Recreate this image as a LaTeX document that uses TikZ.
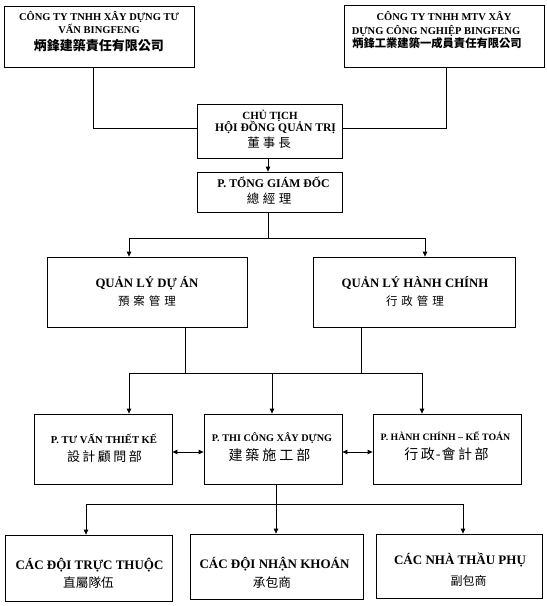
\documentclass[tikz,border=0pt]{standalone}
\usepackage{fontspec}
\setmainfont{Liberation Serif}
\newfontfamily\cjk{Noto Sans CJK TC}
\usetikzlibrary{arrows.meta}
\newcommand\fsz[1]{\fontsize{#1}{#1}\selectfont}
\newcommand\cg[1]{\hspace{#1}}
\begin{document}
\begin{tikzpicture}[x=1pt,y=-1pt,line width=0.8pt,
  box/.style={draw,rectangle,inner sep=0pt},
  vt/.style={anchor=base,inner sep=0pt,font=\bfseries\fsz{#1}},
  ct/.style={anchor=base,inner sep=0pt,font=\cjk\fsz{#1}},
  ctb/.style={anchor=base,inner sep=0pt,font=\cjk\bfseries\fsz{#1}},
  arr/.style={-{Triangle[length=5pt,width=4.5pt]}},
  darr/.style={{Triangle[length=5pt,width=4.5pt]}-{Triangle[length=5pt,width=4.5pt]}}]
\useasboundingbox (0,0) rectangle (547,606);
% boxes
\node[box,minimum width=190pt,minimum height=61pt] (b1) at (99,36.5) {};
\node[box,minimum width=200pt,minimum height=62pt] (b2) at (444,36) {};
\node[box,minimum width=145pt,minimum height=54pt] (chair) at (269.5,131) {};
\node[box,minimum width=145pt,minimum height=40pt] (gd) at (269.5,192) {};
\node[box,minimum width=200pt,minimum height=70pt] (qlda) at (147,292) {};
\node[box,minimum width=202pt,minimum height=70pt] (qlhc) at (414,292) {};
\node[box,minimum width=138pt,minimum height=70pt] (tv) at (103,449) {};
\node[box,minimum width=138pt,minimum height=70pt] (tc) at (273,449) {};
\node[box,minimum width=148pt,minimum height=70pt] (hc) at (447,449) {};
\node[box,minimum width=167pt,minimum height=66pt] (d1) at (88.5,568) {};
\node[box,minimum width=173pt,minimum height=65pt] (d2) at (276.5,566.5) {};
\node[box,minimum width=166pt,minimum height=64pt] (d3) at (459,566) {};
% texts
\node[vt=10.5] (b1a) at (99,20.5) {CÔNG TY TNHH XÂY DỰNG TƯ};
\node[vt=10.5] (b1b) at (99,33.5) {VẤN BINGFENG};
\node[ctb=13] (b1c) at (99,50) {炳鋒建築責任有限公司};
\node[vt=10.5] (b2a) at (444,20.5) {CÔNG TY TNHH MTV XÂY};
\node[vt=10.5] (b2b) at (436,34) {DỰNG CÔNG NGHIỆP BINGFENG};
\node[ctb=11.3] (b2c) at (437,47) {炳鋒工業建築一成員責任有限公司};
\node[vt=11] (cha) at (270,119.5) {CHỦ TỊCH};
\node[vt=11.6] (chb) at (275.5,131.5) {HỘI ĐỒNG QUẢN TRỊ};
\node[ct=12.5] (chc) at (269,147.5) {董\cg{3pt}事\cg{3pt}長};
\node[vt=11.8] (gda) at (273.5,187.5) {P. TỔNG GIÁM ĐỐC};
\node[ct=12.5] (gdb) at (269,203) {總\cg{3.5pt}經\cg{3.5pt}理};
\node[vt=12.8] (qa) at (147,287) {QUẢN LÝ DỰ ÁN};
\node[ct=11.5] (qb) at (147,305) {預\cg{4pt}案\cg{4pt}管\cg{4pt}理};
\node[vt=12.8] (ha) at (415,287) {QUẢN LÝ HÀNH CHÍNH};
\node[ct=11.5] (hb) at (415,305) {行\cg{4pt}政\cg{4pt}管\cg{4pt}理};
\node[vt=10.6] (tva) at (104,443) {P. TƯ VẤN THIẾT KẾ};
\node[ct=13] (tvb) at (104.5,461) {設\cg{2.5pt}計\cg{2.5pt}顧\cg{2.5pt}問\cg{2.5pt}部};
\node[vt=10.2] (tca) at (272,441) {P. THI CÔNG XÂY DỰNG};
\node[ct=14] (tcb) at (269.5,460) {建\cg{3pt}築\cg{3pt}施\cg{3pt}工\cg{3pt}部};
\node[vt=9.8] (hca) at (445.5,440) {P. HÀNH CHÍNH – KẾ TOÁN};
\node[ct=14] (hcb) at (446.5,459) {行\cg{2.5pt}政\cg{1pt}-\cg{1pt}會\cg{2.5pt}計\cg{2.5pt}部};
\node[vt=13] (d1a) at (89.5,569) {CÁC ĐỘI TRỰC THUỘC};
\node[ct=12.7] (d1b) at (88.5,587.5) {直屬隊伍};
\node[vt=13] (d2a) at (274.5,568) {CÁC ĐỘI NHẬN KHOÁN};
\node[ct=12.7] (d2b) at (272,587) {承包商};
\node[vt=13] (d3a) at (460,564) {CÁC NHÀ THẦU PHỤ};
\node[ct=12] (d3b) at (468.5,585) {副包商};
% junction coordinates
\coordinate (j1) at (93,128);
\coordinate (j2) at (446,128);
\coordinate (k0) at (268,238);
\coordinate (kl) at (129,238);
\coordinate (kr) at (425,238);
\coordinate (m1) at (185,373);
\coordinate (m2) at (361,373);
\coordinate (ml) at (129,373);
\coordinate (mc) at (272,373);
\coordinate (mr) at (422,373);
\coordinate (n0) at (276,504);
\coordinate (nl) at (86,504);
\coordinate (nr) at (463,504);
% connectors
\draw (b1.south -| j1) -- (j1) -- (j1 -| chair.west);
\draw (b2.south -| j2) -- (j2) -- (j2 -| chair.east);
\draw[arr] (chair.south -| 268,0) -- (gd.north -| 268,0);
\draw (gd.south -| k0) -- (k0);
\draw (kl) -- (kr);
\draw[arr] (kl) -- (kl |- qlda.north);
\draw[arr] (kr) -- (kr |- qlhc.north);
\draw (qlda.south -| m1) -- (m1);
\draw (qlhc.south -| m2) -- (m2);
\draw (ml) -- (mr);
\draw[arr] (ml) -- (ml |- tv.north);
\draw[arr] (mc) -- (mc |- tc.north);
\draw[arr] (mr) -- (mr |- hc.north);
\draw[darr] (tv.east |- 0,452) -- (tc.west |- 0,452);
\draw[darr] (tc.east |- 0,452) -- (hc.west |- 0,452);
\draw (tc.south -| n0) -- (n0);
\draw (nl) -- (nr);
\draw[arr] (nl) -- (nl |- d1.north);
\draw[arr] (n0) -- (n0 |- d2.north);
\draw[arr] (nr) -- (nr |- d3.north);
\end{tikzpicture}
\end{document}
